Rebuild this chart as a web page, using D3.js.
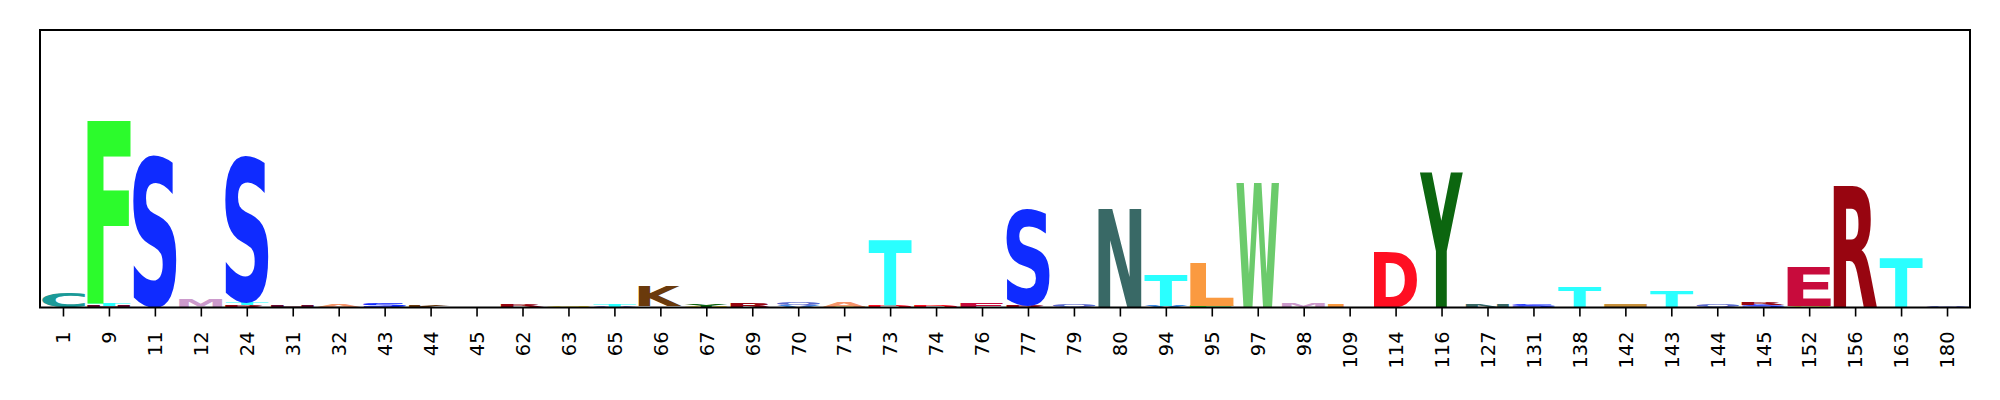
<!DOCTYPE html>
<html>
<head>
<meta charset="utf-8">
<script src="https://cdn.jsdelivr.net/npm/d3@7/dist/d3.min.js"></script>
<style>
  html, body { margin: 0; padding: 0; background: #ffffff; }
  svg { display: block; }
</style>
</head>
<body>
<svg id="chart" width="2000" height="400"></svg>
<script>
// Position labels (x categories)
const positions = ["1","9","11","12","24","31","32","43","44","45","62","63","65","66","67","69","70","71","73","74","76","77","79","80","94","95","97","98","109","114","116","127","131","138","142","143","144","145","152","156","163","180"];

// Letter stacks for each position, bottom to top: [letter, height in bits]
const stacks = [
  [["C",0.24]],
  [["H",0.03],["T",0.04],["F",2.83]],
  [["S",2.39]],
  [["M",0.14]],
  [["R",0.04],["T",0.045],["S",2.30]],
  [["H",0.03]],
  [["A",0.03]],
  [["S",0.07]],
  [["K",0.03]],
  [["R",0.015]],
  [["V",0.015],["R",0.045]],
  [["G",0.02]],
  [["Q",0.012],["T",0.03]],
  [["E",0.025],["K",0.31]],
  [["G",0.015],["Y",0.03]],
  [["R",0.07]],
  [["V",0.03],["Q",0.045]],
  [["G",0.01],["A",0.08]],
  [["D",0.035],["T",1.02]],
  [["D",0.03]],
  [["E",0.07]],
  [["R",0.04],["S",1.52]],
  [["Q",0.04]],
  [["N",1.535]],
  [["V",0.03],["T",0.50]],
  [["F",0.03],["L",0.66]],
  [["W",1.95]],
  [["M",0.08]],
  [["L",0.067]],
  [["D",0.86]],
  [["Y",2.11]],
  [["N",0.055]],
  [["Q",0.015],["S",0.03]],
  [["T",0.33]],
  [["I",0.055]],
  [["T",0.265]],
  [["Q",0.055]],
  [["S",0.035],["R",0.035]],
  [["G",0.02],["E",0.60]],
  [["D",0.015],["R",1.88]],
  [["T",0.77]],
  [["Q",0.025]]
];

// Letter colours
const letterColors = {
  F:"#2CFB2C", S:"#0F2BFF", T:"#2AFFFF", C:"#1A9A98", M:"#CC9ACC", K:"#6A3A0C",
  N:"#396966", L:"#FA9A40", W:"#6CCB6C", D:"#FF0F22", Y:"#0C660F", E:"#C80B3C",
  R:"#980510", A:"#F5956A", Q:"#5B6BD0", H:"#6A0A32", G:"#F0D800", V:"#3C8CE6",
  I:"#C8913C"
};

const yMax = 4.32;

const svg = d3.select("#chart");
const margin = {left: 40, right: 30, top: 30, bottom: 92.5};
const W = 2000, H = 400;
const x0 = margin.left, x1 = W - margin.right;
const yTop = margin.top, yBot = H - margin.bottom;

const x = d3.scaleLinear().domain([-0.5, positions.length - 0.5]).range([x0, x1]);
const y = d3.scaleLinear().domain([0, yMax]).range([yBot, yTop]);

// glyph ink-bounds measurement
const canvas = document.createElement("canvas");
const ctx = canvas.getContext("2d");
ctx.font = "bold 100px 'DejaVu Sans'";
const boundsCache = {};
function glyphBounds(ch) {
  if (!boundsCache[ch]) {
    const m = ctx.measureText(ch);
    boundsCache[ch] = {
      l: -m.actualBoundingBoxLeft, r: m.actualBoundingBoxRight,
      t: -m.actualBoundingBoxAscent, b: m.actualBoundingBoxDescent
    };
  }
  return boundsCache[ch];
}

const letterWidth = 0.94;
const gLetters = svg.append("g");
stacks.forEach((stack, i) => {
  let cum = 0;
  stack.forEach(([ch, v]) => {
    const bx0 = x(i - letterWidth / 2), bx1 = x(i + letterWidth / 2);
    const by1 = y(cum), by0 = y(cum + v);
    cum += v;
    const gb = glyphBounds(ch);
    const sx = (bx1 - bx0) / (gb.r - gb.l);
    const sy = (by1 - by0) / (gb.b - gb.t);
    gLetters.append("text")
      .attr("x", 0).attr("y", 0)
      .attr("font-family", "'DejaVu Sans'")
      .attr("font-weight", "bold")
      .attr("font-size", 100)
      .attr("fill", letterColors[ch])
      .attr("transform", `translate(${bx0},${by0}) scale(${sx},${sy}) translate(${-gb.l},${-gb.t})`)
      .text(ch);
  });
});

// frame
svg.append("rect")
  .attr("x", x0).attr("y", yTop)
  .attr("width", x1 - x0).attr("height", yBot - yTop)
  .attr("fill", "none").attr("stroke", "#000").attr("stroke-width", 2);

// x axis
const xAxis = d3.axisBottom(x)
  .tickValues(d3.range(positions.length))
  .tickFormat(i => positions[i])
  .tickSize(9)
  .tickSizeOuter(0);

const gx = svg.append("g").attr("transform", `translate(0,${yBot})`).call(xAxis);
gx.select(".domain").remove();
gx.selectAll(".tick line").attr("stroke", "#000").attr("stroke-width", 1.6);
gx.selectAll(".tick text")
  .attr("font-family", "'DejaVu Sans'")
  .attr("font-size", 19.4)
  .attr("fill", "#000")
  .attr("text-anchor", "end")
  .attr("transform", "rotate(-90)")
  .attr("x", -24)
  .attr("y", 0)
  .attr("dy", "0.35em");
</script>
</body>
</html>
